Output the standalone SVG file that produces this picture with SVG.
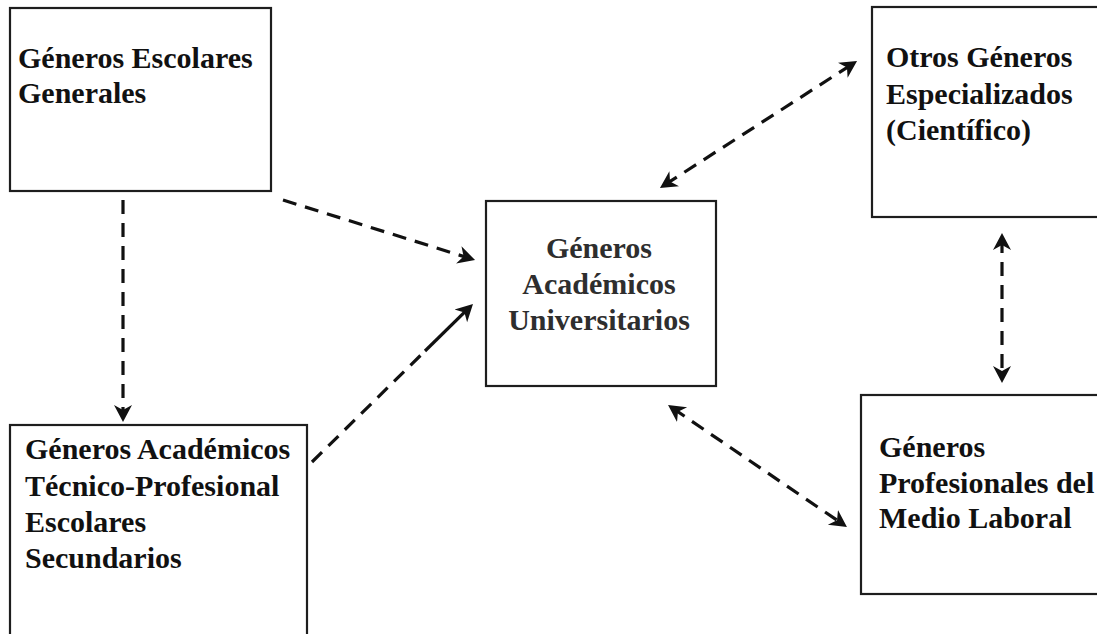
<svg xmlns="http://www.w3.org/2000/svg" width="1097" height="634" viewBox="0 0 1097 634">
  <style>
    .box { fill: #ffffff; stroke: #1e1e1e; stroke-width: 2.2; }
    .label { font-family: "Liberation Serif", "Times New Roman", serif; font-weight: bold; font-size: 30px; fill: #111111; }
    .center { text-anchor: middle; fill: #2e2e2e; }
    .link { fill: none; stroke: #111111; stroke-width: 3.2; stroke-dasharray: 14 9; }
    .solid { fill: none; stroke: #111111; stroke-width: 3.2; }
  </style>
  <defs>
    <marker id="head" markerUnits="userSpaceOnUse" viewBox="0 -10 18 20" refX="11" refY="0" markerWidth="18" markerHeight="20" orient="auto-start-reverse">
      <path d="M17,0 L0,-9 L5,0 L0,9 Z" fill="#111111"/>
    </marker>
  </defs>

  <rect width="1097" height="634" fill="#ffffff"/>

  <g id="connectors">
    <!-- Escolares Generales -> Técnico-Profesional -->
    <path class="link" d="M123,200 L123,416" marker-end="url(#head)"/>
    <!-- Escolares Generales -> Universitarios -->
    <path class="link" d="M283,200 L469.3,258.2" marker-end="url(#head)"/>
    <!-- Técnico-Profesional -> Universitarios (dashed, then solid near the head) -->
    <path class="link" d="M312,462 L425,351"/>
    <path class="solid" d="M425,351 L468.7,308.2" marker-end="url(#head)"/>
    <!-- Universitarios <-> Especializados -->
    <path class="link" d="M665,184.7 L852,64.3" marker-start="url(#head)" marker-end="url(#head)"/>
    <!-- Especializados <-> Medio Laboral -->
    <path class="link" d="M1002,239 L1002,377" marker-start="url(#head)" marker-end="url(#head)"/>
    <!-- Universitarios <-> Medio Laboral -->
    <path class="link" d="M673,408.4 L842,523.6" marker-start="url(#head)" marker-end="url(#head)"/>
  </g>

  <g id="escolares-generales">
    <rect class="box" x="10" y="8" width="261" height="183"/>
    <text class="label" x="18" y="68">Géneros Escolares</text>
    <text class="label" x="18" y="103">Generales</text>
  </g>

  <g id="academicos-universitarios">
    <rect class="box" x="486" y="201" width="230" height="185"/>
    <text class="label center" x="599" y="258">Géneros</text>
    <text class="label center" x="599" y="294">Académicos</text>
    <text class="label center" x="599" y="330">Universitarios</text>
  </g>

  <g id="otros-especializados">
    <rect class="box" x="872" y="7" width="240" height="210"/>
    <text class="label" x="886" y="67">Otros Géneros</text>
    <text class="label" x="886" y="104">Especializados</text>
    <text class="label" x="886" y="140">(Científico)</text>
  </g>

  <g id="tecnico-profesional">
    <rect class="box" x="10" y="425" width="297" height="230"/>
    <text class="label" x="25" y="459">Géneros Académicos</text>
    <text class="label" x="25" y="496">Técnico-Profesional</text>
    <text class="label" x="25" y="532">Escolares</text>
    <text class="label" x="25" y="568">Secundarios</text>
  </g>

  <g id="medio-laboral">
    <rect class="box" x="861" y="395" width="250" height="199"/>
    <text class="label" x="879" y="457">Géneros</text>
    <text class="label" x="879" y="493">Profesionales del</text>
    <text class="label" x="879" y="528">Medio Laboral</text>
  </g>
</svg>
